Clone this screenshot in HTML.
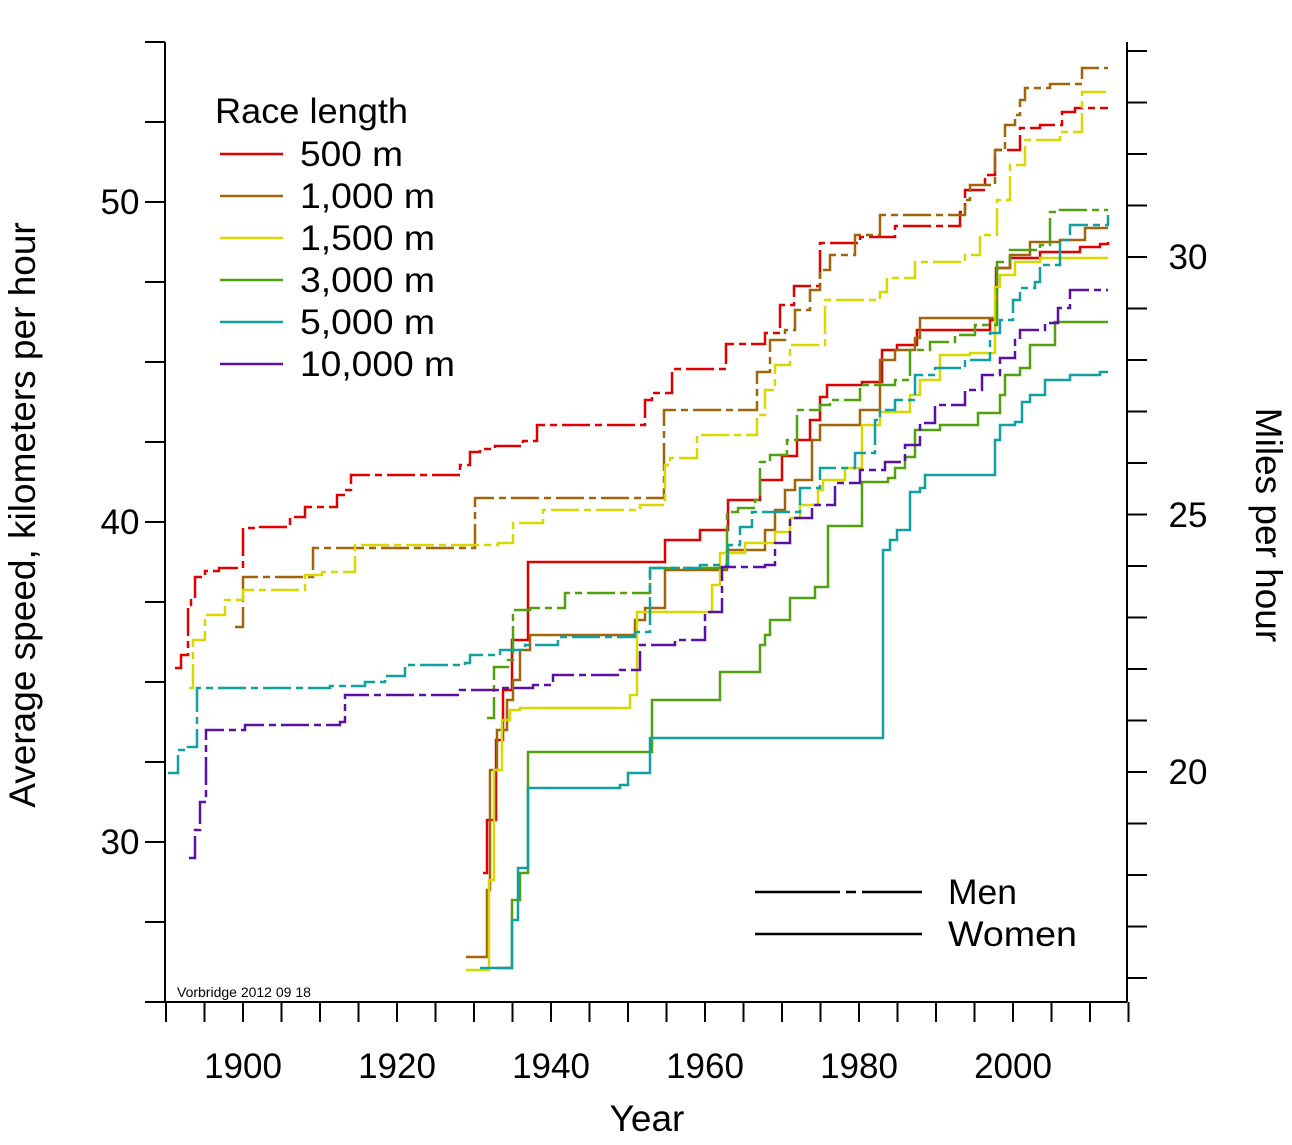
<!DOCTYPE html>
<html><head><meta charset="utf-8"><style>
body{margin:0;background:#fff}
svg text{font-family:"Liberation Sans",Arial,sans-serif;fill:#000}
</style></head><body>
<svg id="s" width="1292" height="1140" viewBox="0 0 1292 1140" xmlns="http://www.w3.org/2000/svg">
<g stroke="#000" stroke-width="2" fill="none" id="ax">
<line x1="165" y1="42" x2="165" y2="1002"/>
<line x1="1127" y1="42" x2="1127" y2="1002"/>
<line x1="165" y1="1002" x2="1127" y2="1002"/>
</g>
<g font-size="35">
<text x="120" y="214" text-anchor="middle">50</text>
<text x="120" y="534" text-anchor="middle">40</text>
<text x="120" y="854" text-anchor="middle">30</text>
<text x="1188" y="269" text-anchor="middle">30</text>
<text x="1188" y="527" text-anchor="middle">25</text>
<text x="1188" y="784" text-anchor="middle">20</text>
<text x="243" y="1078" text-anchor="middle">1900</text>
<text x="397" y="1078" text-anchor="middle">1920</text>
<text x="551" y="1078" text-anchor="middle">1940</text>
<text x="705" y="1078" text-anchor="middle">1960</text>
<text x="859" y="1078" text-anchor="middle">1980</text>
<text x="1013" y="1078" text-anchor="middle">2000</text>
<text x="647" y="1131" text-anchor="middle" font-size="37">Year</text>
<text transform="translate(35,515) rotate(-90)" text-anchor="middle" font-size="37">Average speed, kilometers per hour</text>
<text transform="translate(1256,525) rotate(90)" text-anchor="middle" font-size="37">Miles per hour</text>
</g>
<g font-size="35" lengthAdjust="spacingAndGlyphs">
<text x="215" y="123" textLength="193" lengthAdjust="spacingAndGlyphs">Race length</text>
<text x="300" y="166" textLength="103" lengthAdjust="spacingAndGlyphs">500 m</text>
<text x="300" y="208" textLength="135" lengthAdjust="spacingAndGlyphs">1,000 m</text>
<text x="300" y="250" textLength="135" lengthAdjust="spacingAndGlyphs">1,500 m</text>
<text x="300" y="292" textLength="135" lengthAdjust="spacingAndGlyphs">3,000 m</text>
<text x="300" y="334" textLength="135" lengthAdjust="spacingAndGlyphs">5,000 m</text>
<text x="300" y="376" textLength="155" lengthAdjust="spacingAndGlyphs">10,000 m</text>
<text x="948" y="904" textLength="69" lengthAdjust="spacingAndGlyphs">Men</text>
<text x="948" y="946" textLength="129" lengthAdjust="spacingAndGlyphs">Women</text>
</g>
<text x="177" y="997" font-size="14">Vorbridge 2012 09 18</text>
<g stroke-width="2.5">
<line x1="220" y1="154" x2="283" y2="154" stroke="#e00000"/>
<line x1="220" y1="196" x2="283" y2="196" stroke="#a0640a"/>
<line x1="220" y1="238" x2="283" y2="238" stroke="#d8d800"/>
<line x1="220" y1="280" x2="283" y2="280" stroke="#50a010"/>
<line x1="220" y1="322" x2="283" y2="322" stroke="#10a0a0"/>
<line x1="220" y1="364" x2="283" y2="364" stroke="#5a10a0"/>
<line x1="755" y1="892" x2="922" y2="892" stroke="#000" stroke-dasharray="85 6 10 6 60"/>
<line x1="755" y1="934" x2="922" y2="934" stroke="#000"/>
</g>
<g id="ser" fill="none" stroke-width="2.5"></g>
</svg>
<script>
var ax=document.getElementById('ax'),ns='http://www.w3.org/2000/svg';
function ln(x1,y1,x2,y2){var l=document.createElementNS(ns,'line');l.setAttribute('x1',x1);l.setAttribute('y1',y1);l.setAttribute('x2',x2);l.setAttribute('y2',y2);ax.appendChild(l);}
for(var y=42;y<=1003;y+=80)ln(145,y,165,y);
for(var y=257-51.5*4;y<1002;y+=51.5)ln(1127,y,1147,y);
for(var x=166;x<=1129;x+=38.5)ln(x,1002,x,1022);
var C={r:'#e00000',b:'#a0640a',y:'#d8d800',g:'#50a010',t:'#10a0a0',p:'#5a10a0'};
var S=[
['r',1,[175,668,181,655,188,605,191,598,195,577,205,571,219,568,243,528,260,527,290,517,305,507,337,495,345,490,351,475,460,465,470,452,480,449,495,446,523,441,537,425,645,400,652,393,672,369,726,344,765,333,780,305,794,286,820,243,860,237,895,226,960,212,965,190,985,175,995,150,1020,128,1040,125,1062,112,1075,108,1108,108]],
['r',0,[483,873,487,820,496,740,503,690,512,640,528,562,665,540,700,530,728,500,760,480,782,456,797,440,810,420,820,397,827,385,862,382,882,350,897,345,917,330,990,320,996,268,1010,258,1040,252,1080,247,1100,244,1108,242]],
['b',1,[235,627,243,577,313,548,475,498,664,410,757,372,770,340,785,330,795,310,810,290,820,270,830,255,855,235,880,215,965,200,970,185,995,150,1005,125,1015,115,1020,100,1025,88,1050,84,1082,68,1108,68]],
['b',0,[466,957,487,890,490,770,497,730,507,700,513,680,520,650,530,635,635,620,645,608,665,570,727,550,765,530,775,510,785,490,795,480,812,440,820,425,860,410,880,360,895,350,915,338,920,318,960,318,997,268,1010,255,1030,242,1060,240,1085,228,1108,228]],
['y',1,[189,688,193,640,205,615,225,600,243,590,305,575,322,572,355,545,498,543,513,523,543,510,640,505,665,465,670,458,697,435,757,415,765,390,775,365,790,345,825,300,880,292,887,278,915,262,965,255,980,235,997,200,1010,165,1025,140,1060,132,1082,92,1108,92]],
['y',0,[466,970,489,880,494,770,502,720,510,710,520,708,630,695,637,612,655,612,712,585,720,553,745,543,775,532,790,518,800,505,818,490,823,480,845,468,862,425,880,412,910,395,920,380,940,355,970,353,995,287,1000,275,1015,262,1040,258,1108,258]],
['g',1,[487,718,494,667,508,660,513,610,530,608,565,593,650,568,700,568,727,512,738,508,755,500,760,462,770,455,787,440,797,410,820,405,830,400,860,385,895,380,910,350,930,342,955,335,975,325,997,262,1010,250,1040,245,1050,212,1060,210,1108,210]],
['g',0,[497,968,512,900,520,873,528,752,630,752,652,700,720,672,760,645,765,635,770,620,790,598,815,587,828,526,862,482,888,478,895,468,905,457,915,430,940,425,978,413,1000,395,1005,375,1020,368,1030,345,1055,322,1108,322]],
['t',1,[168,773,178,750,188,747,197,688,330,686,365,682,385,676,405,665,465,663,470,655,500,650,525,645,558,637,635,632,650,568,700,565,728,545,740,527,752,512,800,488,820,468,855,453,875,420,880,410,895,400,915,375,935,368,965,360,990,333,1000,320,1013,300,1020,288,1035,282,1040,265,1060,240,1070,225,1108,215]],
['t',0,[480,968,512,920,518,868,528,788,620,785,628,773,650,738,882,738,883,550,890,540,897,530,910,492,920,488,925,475,995,440,1000,425,1015,422,1022,402,1030,395,1045,380,1070,375,1100,372,1108,372]],
['p',1,[189,858,195,830,200,802,206,730,245,725,340,722,345,695,460,690,500,688,533,685,553,675,620,670,640,645,675,640,705,612,722,567,765,565,775,543,790,518,812,505,835,483,860,470,885,462,905,445,920,423,935,405,965,390,982,375,1000,358,1015,340,1020,330,1045,323,1058,308,1070,290,1108,290]]
];
var g=document.getElementById('ser');
S.forEach(function(s){var a=s[2],d='M'+a[0]+' '+a[1];for(var i=2;i<a.length;i+=2){d+=' H'+a[i]+' V'+a[i+1];}
var p=document.createElementNS(ns,'path');p.setAttribute('d',d);p.setAttribute('stroke',C[s[0]]);if(s[1])p.setAttribute('stroke-dasharray','28 5 7 5');g.appendChild(p);});
</script>
</body></html>
